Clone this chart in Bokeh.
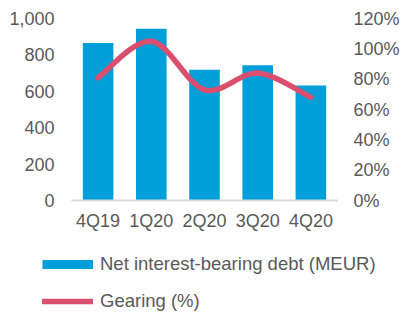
from bokeh.plotting import figure
from bokeh.layouts import column
from bokeh.models import (LinearAxis, Range1d, FixedTicker, NumeralTickFormatter,
                          Legend, LegendItem, ColumnDataSource)
from bokeh.embed import file_html
from bokeh.resources import INLINE

categories = ["4Q19", "1Q20", "2Q20", "3Q20", "4Q20"]
debt = [865, 943, 719, 743, 632]
gearing = [0.81, 1.05, 0.73, 0.84, 0.68]
left_ticks = [0, 200, 400, 600, 800, 1000]
right_ticks = [0, 0.2, 0.4, 0.6, 0.8, 1.0, 1.2]

BLUE = "#009FDA"
RED = "#DA4F6E"
GREY = "#595959"
FONT = "Liberation Sans"
FS = "18px"

xs = list(range(len(categories)))

fig = figure(frame_width=266, frame_height=182, output_backend="svg", toolbar_location=None,
             x_range=Range1d(-0.5, len(categories) - 0.5), y_range=Range1d(0, 1000),
             min_border_left=71, min_border_right=68, min_border_top=18, min_border_bottom=40)
fig.frame_align = False
fig.outline_line_color = None
fig.xgrid.visible = False
fig.ygrid.visible = False
fig.extra_y_ranges = {"pct": Range1d(0, 1.2)}

src = ColumnDataSource(dict(x=xs, debt=debt))
fig.vbar(x="x", top="debt", width=0.575, source=src, fill_color=BLUE, line_color=None)

# smoothed gearing line (Excel-style smoothing via cubic bezier segments)
n = len(gearing)
bx0, by0, bx1, by1, cx0, cy0, cx1, cy1 = [], [], [], [], [], [], [], []
for i in range(n - 1):
    pm = (xs[max(i - 1, 0)], gearing[max(i - 1, 0)])
    p0 = (xs[i], gearing[i])
    p1 = (xs[i + 1], gearing[i + 1])
    p2 = (xs[min(i + 2, n - 1)], gearing[min(i + 2, n - 1)])
    bx0.append(p0[0]); by0.append(p0[1]); bx1.append(p1[0]); by1.append(p1[1])
    cx0.append(p0[0] + (p1[0] - pm[0]) / 6); cy0.append(p0[1] + (p1[1] - pm[1]) / 6)
    cx1.append(p1[0] - (p2[0] - p0[0]) / 6); cy1.append(p1[1] - (p2[1] - p0[1]) / 6)
fig.bezier(x0=bx0, y0=by0, x1=bx1, y1=by1, cx0=cx0, cy0=cy0, cx1=cx1, cy1=cy1,
           line_color=RED, line_width=5.5, line_cap="round", y_range_name="pct")

xa = fig.xaxis[0]
xa.ticker = FixedTicker(ticks=xs)
xa.major_label_overrides = {i: c for i, c in enumerate(categories)}
xa.axis_line_color = "#D9D9D9"
xa.axis_line_width = 2
xa.major_tick_line_color = None
xa.minor_tick_line_color = None
xa.major_tick_out = 0
xa.major_tick_in = 0
xa.major_label_standoff = 10
xa.major_label_text_font = FONT
xa.major_label_text_font_size = FS
xa.major_label_text_color = GREY

ya = fig.yaxis[0]
ya.ticker = FixedTicker(ticks=left_ticks)
ya.formatter = NumeralTickFormatter(format="0,0")
ya.axis_line_color = None
ya.major_tick_line_color = None
ya.minor_tick_line_color = None
ya.major_tick_out = 0
ya.major_tick_in = 0
ya.major_label_standoff = 17
ya.major_label_text_font = FONT
ya.major_label_text_font_size = FS
ya.major_label_text_color = GREY

ra = LinearAxis(y_range_name="pct", ticker=FixedTicker(ticks=right_ticks),
                formatter=NumeralTickFormatter(format="0%"))
ra.axis_line_color = None
ra.major_tick_line_color = None
ra.minor_tick_line_color = None
ra.major_tick_out = 0
ra.major_tick_in = 0
ra.major_label_standoff = 16
ra.major_label_text_font = FONT
ra.major_label_text_font_size = FS
ra.major_label_text_color = GREY
fig.add_layout(ra, "right")

# legend panel below the chart (proxy renderers kept outside the visible range)
leg = figure(width=405, height=74, output_backend="svg", toolbar_location=None,
             x_axis_location=None, y_axis_location=None,
             x_range=Range1d(0, 1), y_range=Range1d(0, 1),
             min_border_left=0, min_border_right=0, min_border_top=0, min_border_bottom=0)
leg.frame_align = False
leg.outline_line_color = None
leg.xgrid.visible = False
leg.ygrid.visible = False
lb = leg.line(x=[5, 6], y=[5, 5], line_color=BLUE, line_width=9, line_cap="butt")
lr = leg.line(x=[5, 6], y=[5, 5], line_color=RED, line_width=5.5, line_cap="round")
legend = Legend(items=[LegendItem(label="Net interest-bearing debt (MEUR)", renderers=[lb]),
                       LegendItem(label="Gearing (%)", renderers=[lr])],
                location=(42, 2), orientation="vertical",
                glyph_width=51, glyph_height=20, label_height=20, spacing=15,
                label_standoff=7, padding=0, margin=0,
                border_line_color=None, background_fill_alpha=0,
                label_text_font=FONT, label_text_font_size="18.5px", label_text_color=GREY)
leg.add_layout(legend, "center")

p = column(fig, leg, spacing=0)

open("out.html", "w").write(file_html(p, INLINE))
